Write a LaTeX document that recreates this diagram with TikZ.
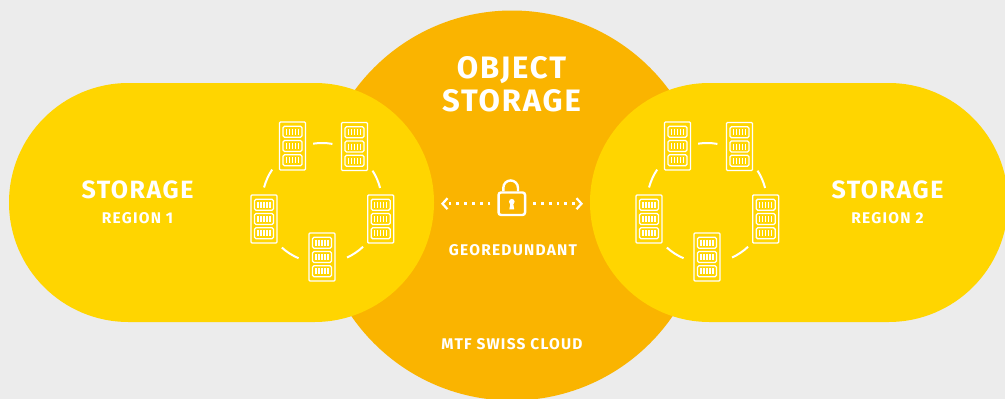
\documentclass[tikz,border=0pt]{standalone}
\usepackage{fontspec}
\newfontfamily\dinbig[LetterSpace=6,BoldFont={Fira Sans Bold}]{Fira Sans}
\newfontfamily\dinsmall[LetterSpace=8,BoldFont={Fira Sans Bold}]{Fira Sans}
\usepackage{xcolor}
\usepackage{tikz}
\usetikzlibrary{positioning,calc,arrows.meta}

\definecolor{pagegrey}{HTML}{ECECEC}
\definecolor{pillyellow}{HTML}{FFD500}
\definecolor{discorange}{HTML}{FAB400}

\tikzset{
	pill/.style={fill=pillyellow, draw=none, rounded corners=119.5pt},
	bigtitle/.style={text=white, font=\dinbig\bfseries\fontsize{31}{33}\selectfont, align=center, inner sep=0},
	midtitle/.style={text=white, font=\dinbig\bfseries\fontsize{25}{27}\selectfont, inner sep=0},
	smalltitle/.style={text=white, font=\dinsmall\bfseries\fontsize{15.5}{17}\selectfont, inner sep=0},
	ringarc/.style={white, line width=2pt},
	dotlink/.style={white, line width=2.8pt, dash pattern=on 2.8pt off 5pt, shorten <=7pt,
		-{Straight Barb[length=5pt, width=11pt, line width=2.2pt]}},
	pics/server/.style={code={
		\draw[white, line width=1.4pt, rounded corners=1pt] (-13,-24) rectangle (13,24);
		\foreach \dy in {-14.3,0,14.3} {
			\draw[white, line width=1.3pt, rounded corners=1.5pt] (-9.5,\dy-5.5) rectangle (9.5,\dy+5.5);
			\foreach \dx in {-6,-3,0,3,6}
				\draw[white, line width=1.2pt] (\dx,\dy-3) -- (\dx,\dy+3);
		}
	}},
	pics/ring/.style={code={
		\foreach \px/\py in {-29.5/-57, 32.5/-56.5, 58.7/16, 0/54, -58/16}
			\pic at (\px,\py) {server};
		\foreach \a/\b in {-98.5/-80, -32.6/-14.5, 46.8/65.3, 113/132, 195/213.8}
			\draw[ringarc] (\a:60) arc[start angle=\a, end angle=\b, radius=60];
	}}
}

\begin{document}
\begin{tikzpicture}[x=1pt, y=-1pt]
	\useasboundingbox (0,0) rectangle (1005,399);
	\clip (0,0) rectangle (1005,399);
	\fill[pagegrey] (0,0) rectangle (1005,399);
	\fill[discorange] (512,205.5) circle (195);
	\fill[pill] (9,83) rectangle (434,322);
	\fill[pill] (590,83) rectangle (1008,322);

	% left and right rings
	\pic at (322,203) {ring};
	\pic at (707,203) {ring};

	\node[bigtitle] (object) at (511.5,84) {OBJECT\\STORAGE};
	\node[midtitle] (storageL) at (137.5,189.5) {STORAGE};
	\node[smalltitle] (regionL) at (137.5,218) {REGION 1};
	\node[midtitle] (storageR) at (887.5,189.5) {STORAGE};
	\node[smalltitle] (regionR) at (887.5,218) {REGION 2};
	\node[smalltitle] (geo) at (513,250) {GEOREDUNDANT};
	\node[smalltitle] (cloud) at (512,344) {MTF SWISS CLOUD};

	% lock
	\node[draw=white, line width=2.4pt, rounded corners=2.5pt, minimum width=26.5pt, minimum height=22.5pt, inner sep=0] (lock) at (511.8,203.7) {};
	\draw[white, line width=2.4pt] (lock.north west)+(6,0) -- ++(6,-3.5) arc[start angle=180, end angle=360, radius=7.3] -- +(0,3.5);
	\fill[white] (511.8,201.7) circle (2.8);
	\fill[white] (510.6,202) -- (513,202) -- (514.2,209.3) -- (509.4,209.3) -- cycle;

	% arrows
	\coordinate (tipL) at (441,203.7);
	\coordinate (tipR) at (583,203.7);
	\draw[dotlink] (lock.west) -- (tipL);
	\draw[dotlink] (lock.east) -- (tipR);
\end{tikzpicture}
\end{document}
